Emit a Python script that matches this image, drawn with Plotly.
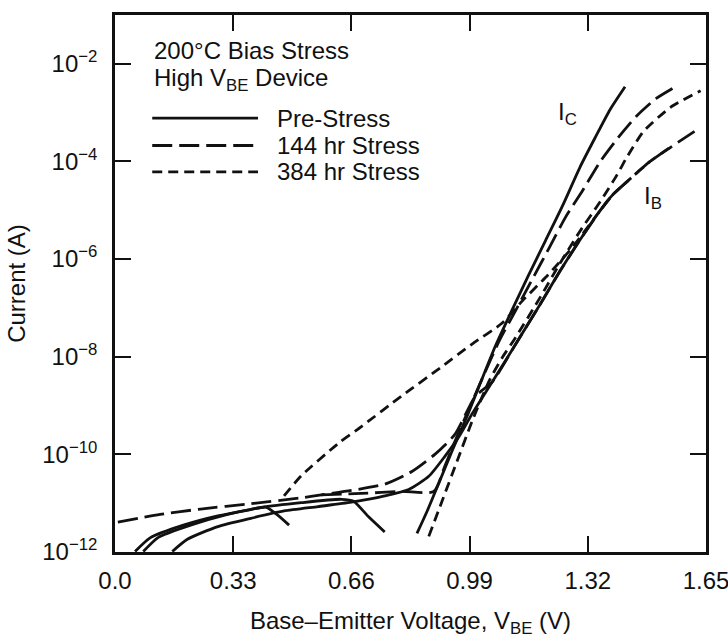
import plotly.graph_objects as go

# ---- data: V_BE (V) and log10(current / A) ----
# Pre-stress (solid)
pre_ic_v = [0.843, 0.871, 0.904, 0.941, 0.983, 1.020, 1.062, 1.110, 1.154, 1.202, 1.250, 1.298, 1.340, 1.382, 1.424]
pre_ic_log = [-11.62, -11.17, -10.59, -9.93, -9.22, -8.54, -7.78, -7.02, -6.34, -5.62, -4.90, -4.12, -3.52, -2.94, -2.47]

pre_ib_v = [0.160, 0.202, 0.287, 0.379, 0.472, 0.567, 0.660, 0.753, 0.820, 0.876, 0.921, 0.961,
            0.997, 1.053, 1.118, 1.185, 1.242, 1.298, 1.354, 1.390, 1.433]
pre_ib_log = [-11.99, -11.74, -11.48, -11.31, -11.16, -11.07, -10.98, -10.85, -10.72, -10.45, -10.04, -9.63,
              -9.17, -8.52, -7.75, -6.95, -6.25, -5.61, -5.01, -4.68, -4.39]

pre_dip1_v = [0.056, 0.098, 0.191, 0.287, 0.379, 0.421, 0.455, 0.486]
pre_dip1_log = [-11.99, -11.71, -11.45, -11.26, -11.13, -11.08, -11.25, -11.45]

pre_dip2_v = [0.079, 0.121, 0.211, 0.309, 0.407, 0.520, 0.632, 0.666, 0.708, 0.753]
pre_dip2_log = [-11.99, -11.70, -11.45, -11.24, -11.09, -10.99, -10.92, -10.96, -11.28, -11.59]

# 144 hr stress (long dash)
s144_ic_v = [0.576, 0.688, 0.801, 0.890, 0.921, 0.955, 0.992, 1.031, 1.073, 1.118, 1.166, 1.213,
             1.258, 1.306, 1.354, 1.404, 1.455, 1.511, 1.567]
s144_ic_log = [-10.83, -10.80, -10.76, -10.76, -10.24, -9.63, -9.01, -8.35, -7.67, -7.06, -6.40, -5.76,
               -5.14, -4.59, -4.01, -3.52, -3.08, -2.71, -2.46]

s144_ib_v = [0.008, 0.126, 0.239, 0.379, 0.520, 0.576, 0.660, 0.753, 0.829, 0.893, 0.949, 1.006,
             1.053, 1.118, 1.185, 1.242, 1.298, 1.354, 1.390, 1.433, 1.494, 1.551, 1.629]
s144_ib_log = [-11.39, -11.23, -11.12, -11.01, -10.89, -10.83, -10.74, -10.61, -10.35, -10.00, -9.59, -8.81,
               -8.52, -7.75, -6.95, -6.25, -5.61, -5.01, -4.68, -4.39, -4.00, -3.71, -3.33]

# 384 hr stress (short dash)
s384_ic_v = [0.876, 0.913, 0.955, 0.997, 1.045, 1.081, 1.118, 1.185, 1.242, 1.298, 1.354, 1.402,
             1.427, 1.475, 1.551, 1.635]
s384_ic_log = [-11.68, -10.96, -10.14, -9.32, -8.49, -8.02, -7.61, -6.81, -6.09, -5.43, -4.83, -4.27,
               -3.94, -3.39, -2.89, -2.55]

s384_ib_v = [0.472, 0.520, 0.626, 0.688, 0.801, 0.913, 0.997, 1.081, 1.138, 1.208, 1.278, 1.354,
             1.390, 1.433, 1.494, 1.551]
s384_ib_log = [-10.85, -10.44, -9.76, -9.43, -8.80, -8.20, -7.74, -7.31, -6.85, -6.33, -5.75, -5.01,
               -4.68, -4.39, -4.00, -3.71]

x_tickvals = [0.0, 0.33, 0.66, 0.99, 1.32, 1.65]
x_ticktext = ["0.0", "0.33", "0.66", "0.99", "1.32", "1.65"]
y_tickvals = [1e-12, 1e-10, 1e-8, 1e-6, 1e-4, 1e-2]
y_ticktext = ["10<sup>−12</sup>", "10<sup>−10</sup>", "10<sup>−8</sup>",
              "10<sup>−6</sup>", "10<sup>−4</sup>", "10<sup>−2</sup>"]

legend_names = ["Pre-Stress", "144 hr Stress", "384 hr Stress"]

FONT = "Liberation Sans, Arial, Helvetica, sans-serif"
INK = "#111111"
FS = 24
LW = 2.8
DASH = {"solid": "solid", "long": "20px,7px", "short": "10px,6px"}

curves = [
    (pre_ic_v, pre_ic_log, "solid"),
    (pre_ib_v, pre_ib_log, "solid"),
    (pre_dip1_v, pre_dip1_log, "solid"),
    (pre_dip2_v, pre_dip2_log, "solid"),
    (s144_ic_v, s144_ic_log, "long"),
    (s144_ib_v, s144_ib_log, "long"),
    (s384_ic_v, s384_ic_log, "short"),
    (s384_ib_v, s384_ib_log, "short"),
]

fig = go.Figure()
for xs, ls, sty in curves:
    fig.add_trace(go.Scatter(
        x=xs, y=[10 ** v for v in ls], mode="lines",
        line=dict(color=INK, width=LW, dash=DASH[sty], shape="spline", smoothing=0.6),
        showlegend=False, hoverinfo="skip"))

# legend drawn as keys + text inside the plot
rows_y = [0.808, 0.757, 0.708]
styles = ["solid", "long", "short"]
for name, yy, sty in zip(legend_names, rows_y, styles):
    fig.add_shape(type="line", xref="paper", yref="paper", x0=0.063, x1=0.242, y0=yy, y1=yy,
                  line=dict(color=INK, width=LW, dash=DASH[sty]))
    fig.add_annotation(xref="paper", yref="paper", x=0.271, y=yy, text=name, showarrow=False,
                       xanchor="left", yanchor="middle", font=dict(size=FS, color=INK, family=FONT))

fig.add_annotation(xref="paper", yref="paper", x=0.063, y=0.933, text="200°C Bias Stress",
                   showarrow=False, xanchor="left", yanchor="middle",
                   font=dict(size=FS, color=INK, family=FONT))
fig.add_annotation(xref="paper", yref="paper", x=0.063, y=0.880, text="High V<sub>BE</sub> Device",
                   showarrow=False, xanchor="left", yanchor="middle",
                   font=dict(size=FS, color=INK, family=FONT))

# curve labels
fig.add_annotation(x=1.264, y=-3.02, text="I<sub>C</sub>", showarrow=False,
                   font=dict(size=FS, color=INK, family=FONT))
fig.add_annotation(x=1.503, y=-4.73, text="I<sub>B</sub>", showarrow=False,
                   font=dict(size=FS, color=INK, family=FONT))

fig.update_layout(
    width=728, height=640,
    margin=dict(l=115, r=22, t=15, b=88),
    paper_bgcolor="white", plot_bgcolor="white",
    font=dict(family=FONT, size=FS, color=INK),
)
fig.update_xaxes(
    range=[0, 1.65], tickvals=x_tickvals, ticktext=x_ticktext,
    showgrid=False, zeroline=False, automargin=False,
    showline=True, linecolor=INK, linewidth=2.5, mirror="ticks",
    ticks="inside", ticklen=16, tickwidth=2, tickcolor=INK,
    ticklabelstandoff=5, ticklabeloverflow="allow",
    tickfont=dict(size=FS, color=INK, family=FONT),
    title=dict(text="Base–Emitter Voltage, V<sub>BE</sub> (V)", standoff=20,
               font=dict(size=FS, color=INK, family=FONT)),
)
fig.update_yaxes(
    type="log", range=[-12, -1], tickvals=y_tickvals, ticktext=y_ticktext,
    showgrid=False, zeroline=False, automargin=False,
    showline=True, linecolor=INK, linewidth=2.5, mirror="ticks",
    ticks="inside", ticklen=16, tickwidth=2, tickcolor=INK,
    ticklabelstandoff=10, ticklabeloverflow="allow",
    tickfont=dict(size=FS, color=INK, family=FONT),
    title=dict(text="Current (A)", standoff=10, font=dict(size=FS, color=INK, family=FONT)),
)

fig.write_html("out.html")
